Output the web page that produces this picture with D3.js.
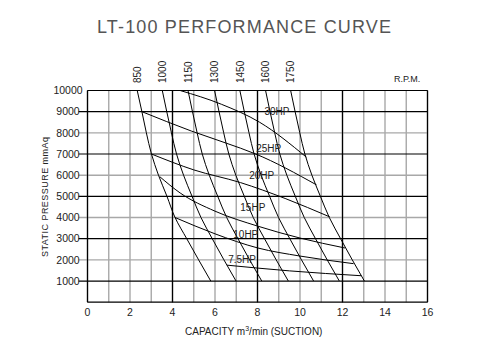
<!DOCTYPE html>
<html>
<head>
<script src="https://d3js.org/d3.v7.min.js"></script>
<style>
body { margin: 0; background: #fff; }
text { font-family: "Liberation Sans", Arial, sans-serif; fill: #222; }
</style>
</head>
<body>
<script>
// pressure levels (mmAq) where the rpm curves were read
const pressureLevels = [10000, 9000, 8000, 7000, 6000, 5000, 4000, 3000, 2000, 1000];

// capacity (m3/min) of each rpm curve at those levels
const rpmLabels = ['850', '1000', '1150', '1300', '1450', '1600', '1750'];
const rpm850  = [2.34, 2.56, 2.77, 3.01, 3.34, 3.74, 4.12, 4.67, 5.23, 5.80];
const rpm1000 = [3.52, 3.73, 3.95, 4.19, 4.52, 4.92, 5.34, 5.87, 6.42, 6.99];
const rpm1150 = [4.73, 4.94, 5.16, 5.40, 5.73, 6.13, 6.55, 7.08, 7.63, 8.20];
const rpm1300 = [5.98, 6.19, 6.41, 6.65, 6.98, 7.38, 7.80, 8.33, 8.88, 9.45];
const rpm1450 = [7.17, 7.38, 7.60, 7.84, 8.17, 8.57, 8.99, 9.52, 10.07, 10.64];
const rpm1600 = [8.38, 8.59, 8.81, 9.05, 9.38, 9.78, 10.20, 10.73, 11.28, 11.85];
const rpm1750 = [9.56, 9.77, 9.99, 10.23, 10.56, 10.96, 11.38, 11.91, 12.46, 13.03];
const rpmCurves = [rpm850, rpm1000, rpm1150, rpm1300, rpm1450, rpm1600, rpm1750];

// horse power lines [capacity, pressure]
const hpLabels = ['30HP', '25HP', '20HP', '15HP', '10HP', '7.5HP'];
const hp30  = [[4.36, 10000], [6.3, 9350], [8.1, 8500], [10.30, 6850]];
const hp25  = [[2.56, 9000], [4.9, 8080], [7.19, 7280], [7.89, 7010], [10.78, 5540]];
const hp20  = [[3.01, 7000], [5.0, 6250], [7.2, 5650], [9.3, 4900], [11.40, 4030]];
const hp15  = [[3.40, 5930], [4.36, 5160], [6.0, 4300], [8.02, 3590], [10.0, 3030], [12.12, 2560]];
const hp10  = [[4.12, 4000], [6.0, 3230], [8.02, 2560], [10.0, 2180], [12.52, 1820]];
const hp7_5 = [[6.56, 1750], [9.5, 1480], [12.89, 1250]];
const hpLines = [hp30, hp25, hp20, hp15, hp10, hp7_5];
// where each hp label starts (capacity, pressure of baseline)
const hpLabelAt = [[8.33, 8865], [7.94, 7100], [7.61, 5825], [7.19, 4310], [6.86, 3036], [6.62, 1853]];

const capacityTicks = [0, 2, 4, 6, 8, 10, 12, 14, 16];
const pressureTicks = [1000, 2000, 3000, 4000, 5000, 6000, 7000, 8000, 9000, 10000];
const capacityGrid = [0, 1, 2, 3, 4, 5, 6, 7, 8, 9, 10, 11, 12, 13, 14, 15, 16];
const pressureGrid = [0, 1000, 2000, 3000, 4000, 5000, 6000, 7000, 8000, 9000, 10000];
const blackCapacity = [0, 4, 8, 12, 16];
const blackPressure = [0, 1000, 3000, 5000, 7000, 9000, 10000];

const width = 492, height = 354;

const svg = d3.select('body')
    .append('svg')
    .attr('width', width)
    .attr('height', height);

const x = d3.scaleLinear().domain([0, 16]).range([87.5, 427.5]);
const y = d3.scaleLinear().domain([0, 10000]).range([302.2, 90.5]);

// title
svg.append('text')
    .attr('x', 244)
    .attr('y', 33)
    .attr('text-anchor', 'middle')
    .attr('textLength', 294)
    .attr('lengthAdjust', 'spacing')
    .style('font-size', '18px')
    .style('fill', '#555')
    .text('LT-100 PERFORMANCE CURVE');

// grid, grey first then black on top
const grid = svg.append('g');
grid.selectAll('line.vg')
    .data(capacityGrid)
    .enter()
    .append('line')
    .attr('x1', d => x(d)).attr('x2', d => x(d))
    .attr('y1', y(0)).attr('y2', y(10000))
    .attr('stroke', d => blackCapacity.includes(d) ? '#000' : '#a8a8a8')
    .attr('stroke-width', d => blackCapacity.includes(d) ? 1.2 : 1.4);

grid.selectAll('line.hg')
    .data(pressureGrid)
    .enter()
    .append('line')
    .attr('x1', d => d === 0 || d === 10000 ? x(0) : x(0) - 9)
    .attr('x2', x(16))
    .attr('y1', d => y(d)).attr('y2', d => y(d))
    .attr('stroke', d => blackPressure.includes(d) ? '#000' : '#a8a8a8')
    .attr('stroke-width', d => blackPressure.includes(d) ? 1.2 : 1.4);

// redraw black verticals over the grey horizontals
grid.selectAll('line.vb')
    .data(blackCapacity)
    .enter()
    .append('line')
    .attr('x1', d => x(d)).attr('x2', d => x(d))
    .attr('y1', y(0)).attr('y2', y(10000))
    .attr('stroke', '#000')
    .attr('stroke-width', 1.2);

// axis labels
svg.selectAll('text.xt')
    .data(capacityTicks)
    .enter()
    .append('text')
    .attr('x', d => x(d))
    .attr('y', 316)
    .attr('text-anchor', 'middle')
    .style('font-size', '10.5px')
    .text(d => d);

svg.selectAll('text.yt')
    .data(pressureTicks)
    .enter()
    .append('text')
    .attr('x', 68)
    .attr('y', d => y(d) + 3.8)
    .attr('text-anchor', 'middle')
    .style('font-size', '10.5px')
    .text(d => d);

const xTitle = svg.append('text')
    .attr('x', 185)
    .attr('y', 335)
    .style('font-size', '10px');
xTitle.append('tspan').text('CAPACITY  m');
xTitle.append('tspan').attr('dy', -4).style('font-size', '7px').text('3');
xTitle.append('tspan').attr('dy', 4).text('/min  (SUCTION)');

svg.append('text')
    .attr('transform', 'translate(48.3,197) rotate(-90)')
    .attr('text-anchor', 'middle')
    .attr('textLength', 120)
    .attr('lengthAdjust', 'spacing')
    .style('font-size', '9px')
    .text('STATIC  PRESSURE  mmAq');

// rpm labels
svg.selectAll('text.rpm')
    .data(rpmCurves)
    .enter()
    .append('text')
    .attr('transform', d => `translate(${x(d[0]) + 3.7},83) rotate(-90)`)
    .style('font-size', '10px')
    .text((d, i) => rpmLabels[i]);

svg.append('text')
    .attr('x', 394)
    .attr('y', 82)
    .style('font-size', '9px')
    .text('R.P.M.');

// rpm curves
const rpmLine = d3.line()
    .x(d => x(d[0]))
    .y(d => y(d[1]))
    .curve(d3.curveMonotoneY);

svg.selectAll('path.rpm')
    .data(rpmCurves)
    .enter()
    .append('path')
    .attr('d', d => rpmLine(d.map((c, i) => [c, pressureLevels[i]])))
    .attr('fill', 'none')
    .attr('stroke', '#000')
    .attr('stroke-width', 1);

// hp lines
const hpLine = d3.line()
    .x(d => x(d[0]))
    .y(d => y(d[1]))
    .curve(d3.curveMonotoneX);

svg.selectAll('path.hp')
    .data(hpLines)
    .enter()
    .append('path')
    .attr('d', d => hpLine(d))
    .attr('fill', 'none')
    .attr('stroke', '#000')
    .attr('stroke-width', 1);

svg.selectAll('text.hp')
    .data(hpLabelAt)
    .enter()
    .append('text')
    .attr('x', d => x(d[0]))
    .attr('y', d => y(d[1]))
    .style('font-size', '10px')
    .text((d, i) => hpLabels[i]);
</script>
</body>
</html>
